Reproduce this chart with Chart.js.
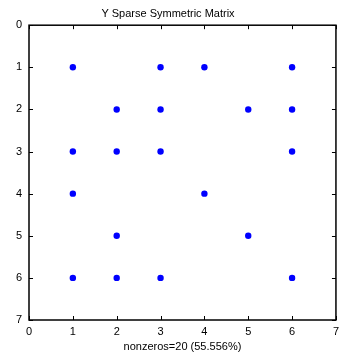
<!DOCTYPE html>
<html>
<head>
<meta charset="utf-8">
<script src="https://cdn.jsdelivr.net/npm/chart.js@4"></script>
<style>
  html, body { margin: 0; padding: 0; background: #fff; }
  #wrap { width: 344px; height: 354px; }
</style>
</head>
<body>
<div id="wrap"><canvas id="spy"></canvas></div>
<script>
// nonzero entries of the matrix: column index (x) and row index (y)
const colIdx = [1, 3, 4, 6, 2, 3, 5, 6, 1, 2, 3, 6, 1, 4, 2, 5, 1, 2, 3, 6];
const rowIdx = [1, 1, 1, 1, 2, 2, 2, 2, 3, 3, 3, 3, 4, 4, 5, 5, 6, 6, 6, 6];
const tickVals = [0, 1, 2, 3, 4, 5, 6, 7];
const chartTitle = 'Y Sparse Symmetric Matrix';
const xTitle = 'nonzeros=20 (55.556%)';

const font = 'Liberation Sans, Arial, sans-serif';

// inward ticks on all four sides, like matlab axes
const innerTicks = {
  id: 'innerTicks',
  afterDraw(chart) {
    const { ctx, chartArea: a, scales } = chart;
    const len = 4;
    ctx.save();
    ctx.strokeStyle = '#000';
    ctx.lineWidth = 1;
    ctx.beginPath();
    tickVals.forEach(v => {
      const px = Math.round(scales.x.getPixelForValue(v)) + 0.5;
      const py = Math.round(scales.y.getPixelForValue(v)) + 0.5;
      ctx.moveTo(px, a.bottom); ctx.lineTo(px, a.bottom - len);
      ctx.moveTo(px, a.top); ctx.lineTo(px, a.top + len);
      ctx.moveTo(a.left, py); ctx.lineTo(a.left + len, py);
      ctx.moveTo(a.right, py); ctx.lineTo(a.right - len, py);
    });
    ctx.stroke();
    ctx.lineWidth = 1.5;
    ctx.strokeRect(a.left, a.top, a.right - a.left, a.bottom - a.top);
    ctx.restore();
  }
};

new Chart(document.getElementById('spy'), {
  type: 'scatter',
  data: {
    datasets: [{
      data: colIdx.map((x, i) => ({ x: x, y: rowIdx[i] })),
      backgroundColor: '#0000ff',
      borderColor: '#0000ff',
      pointRadius: 3.2,
      pointBorderWidth: 0
    }]
  },
  options: {
    responsive: true,
    maintainAspectRatio: false,
    animation: false,
    layout: { padding: { top: 0, right: 8, bottom: 0, left: 0 } },
    plugins: {
      legend: { display: false },
      tooltip: { enabled: false },
      title: {
        display: true,
        text: chartTitle,
        color: '#000',
        font: { family: font, size: 11, weight: 'normal' },
        padding: { top: 7, bottom: 5 }
      }
    },
    scales: {
      x: {
        type: 'linear',
        min: 0, max: 7,
        afterBuildTicks: s => { s.ticks = tickVals.map(v => ({ value: v })); },
        afterFit: s => { s.height = 34; },
        grid: { display: false, drawTicks: false },
        border: { display: false },
        ticks: { color: '#000', padding: 5, font: { family: font, size: 11 } },
        title: {
          display: true,
          text: xTitle,
          color: '#000',
          font: { family: font, size: 11 },
          padding: { top: 2, bottom: 0 }
        }
      },
      y: {
        type: 'linear',
        reverse: true,
        min: 0, max: 7,
        afterBuildTicks: s => { s.ticks = tickVals.map(v => ({ value: v })); },
        afterFit: s => { s.width = 29; },
        grid: { display: false, drawTicks: false },
        border: { display: false },
        ticks: { color: '#000', padding: 7, font: { family: font, size: 11 } }
      }
    }
  },
  plugins: [innerTicks]
});
</script>
</body>
</html>
